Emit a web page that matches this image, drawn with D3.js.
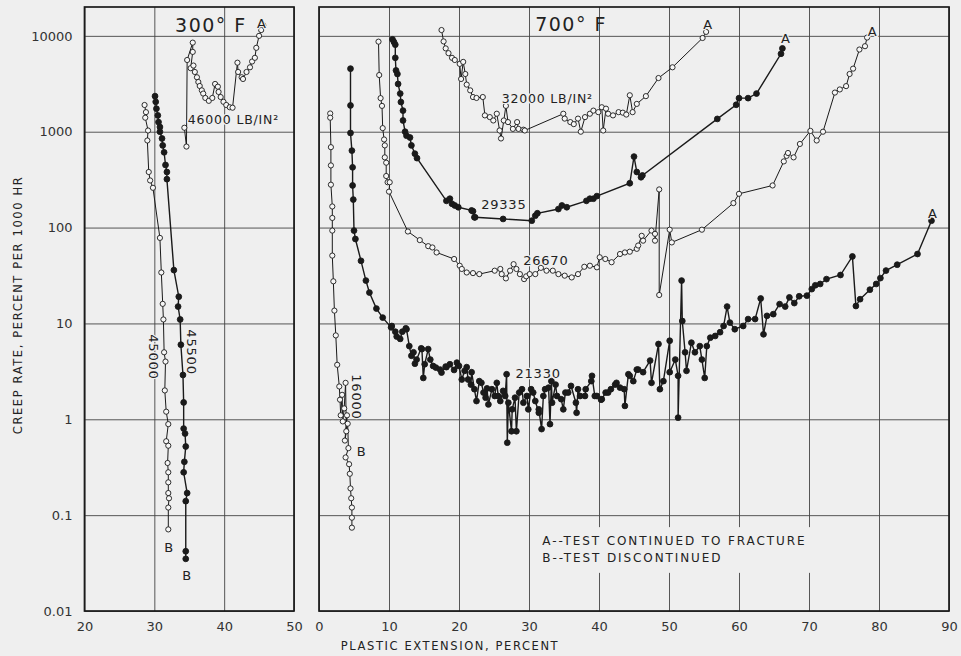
<!DOCTYPE html>
<html>
<head>
<meta charset="utf-8">
<script src="https://cdn.jsdelivr.net/npm/d3@7"></script>
<style>
  body { margin: 0; background: #efefef; }
  svg { display: block; font-family: "DejaVu Sans", sans-serif; }
</style>
</head>
<body>
<svg width="961" height="656"></svg>
<script>
// creep rate (percent per 1000 hr) vs plastic extension (percent)

// 300 F
const s46000 = [[34.3,1100],[34.6,700],[34.7,5600],[35.5,8500],[35.5,6800],[35.2,4600],[35.6,4900],[35.8,4200],[36.1,3700],[36.3,3300],[36.5,3000],[36.8,2700],[37.0,2500],[37.3,2250],[37.8,2100],[38.3,2250],[38.7,3150],[39.1,2950],[39.2,2600],[39.5,2300],[39.9,2050],[40.3,1900],[40.8,1800],[41.2,1780],[41.9,5250],[42.0,4200],[42.5,3700],[42.7,3550],[43.2,4200],[43.7,4700],[44.0,5400],[44.4,5900],[44.6,7500],[45.0,10000],[45.3,11500],[45.6,12900]];
const s45000 = [[28.6,1900],[28.8,1600],[28.7,1400],[29.1,1030],[29.0,810],[29.2,380],[29.4,310],[29.8,260],[30.8,78],[31.0,34],[31.2,16],[31.3,11],[31.4,5.0],[31.6,4.0],[31.5,2.0],[31.7,1.2],[32.0,0.89],[31.7,0.59],[32.0,0.53],[31.9,0.35],[32.0,0.28],[32.0,0.22],[32.0,0.17],[32.1,0.15],[32.0,0.12],[32.0,0.071]];
const s45500 = [[30.1,2350],[30.2,2050],[30.3,1740],[30.5,1480],[30.6,1260],[30.8,1120],[30.8,1000],[31.1,850],[31.2,720],[31.4,610],[31.6,450],[31.8,380],[31.8,320],[32.8,36],[33.5,19],[33.4,15],[33.7,11],[33.8,6],[34.1,2.9],[34.2,1.5],[34.2,0.8],[34.4,0.71],[34.5,0.52],[34.3,0.36],[34.2,0.28],[34.7,0.17],[34.5,0.14],[34.5,0.042],[34.5,0.035]];

// 700 F
const s32000 = [[17.5,11500],[17.8,8750],[18.1,7400],[18.5,6600],[19.0,5900],[19.4,5600],[20.1,5100],[20.3,3550],[20.6,5350],[20.9,4000],[21.1,3100],[21.6,2700],[22.0,2300],[22.5,2250],[23.4,2300],[23.7,1480],[24.4,1420],[24.9,1310],[25.4,1540],[25.8,1030],[26.0,850],[26.4,1310],[26.7,1860],[27.0,1260],[27.7,1070],[28.3,1260],[28.5,1070],[29.2,1050],[29.4,1030],[34.9,1540],[35.1,1370],[35.9,1260],[36.4,1200],[37.0,1370],[37.4,1000],[38.0,1420],[38.7,1540],[39.2,1660],[39.9,1600],[40.4,1800],[40.6,1030],[41.0,1740],[41.3,1540],[42.0,1480],[42.8,1600],[43.4,1580],[43.9,1510],[44.4,2400],[44.8,1600],[45.4,1950],[46.7,2350],[48.5,3630],[50.5,4700],[54.8,9500],[55.3,11000]];
const s29335 = [[10.5,9200],[10.7,8650],[10.9,8100],[10.9,5900],[11.0,4360],[11.2,4000],[11.3,3150],[11.6,2500],[11.7,2040],[12.0,1660],[12.0,1310],[12.3,1000],[12.5,910],[13.0,870],[13.2,720],[13.7,590],[14.0,530],[18.2,190],[18.7,200],[19.0,177],[19.4,170],[19.9,163],[21.8,151],[22.0,148],[22.2,128],[22.3,128],[26.3,123],[30.4,118],[30.9,133],[31.2,141],[34.2,156],[34.7,170],[35.4,163],[38.2,190],[38.7,200],[39.2,200],[39.7,213],[44.4,290],[45.0,550],[45.4,380],[46.0,335],[46.2,350],[56.9,1360],[59.6,1910],[60.0,2240],[61.3,2240],[62.5,2500],[66.0,6500],[66.2,7400]];
const s26670 = [[8.5,8700],[8.6,3900],[8.8,2240],[9.0,1860],[9.1,1090],[9.3,830],[9.4,720],[9.4,540],[9.6,475],[9.6,345],[9.8,297],[10.1,297],[10.0,237],[12.7,91],[14.4,74],[15.6,64],[16.2,62],[16.8,55],[19.3,47],[20.1,40],[20.4,37],[21.1,34],[22.0,33.5],[22.9,32.7],[25.1,35.5],[25.9,37],[26.1,32.7],[26.7,29.5],[27.3,35.5],[27.8,41.5],[28.2,37],[28.7,32.7],[29.3,29],[29.6,31],[30.1,32.7],[30.9,32.7],[31.7,38],[32.5,35.5],[33.4,35.5],[34.2,32.7],[35.1,31.5],[36.1,30.2],[37.0,32.7],[37.9,39],[38.7,40],[39.7,38.5],[40.1,49],[40.9,47],[41.8,43.5],[43.0,53],[43.7,55],[44.4,56],[45.4,60],[45.6,65],[46.1,82],[46.3,73],[47.5,93],[48.0,86],[48.0,73],[48.6,250],[48.6,19.8],[50.1,95],[50.4,70],[54.7,95],[59.2,180],[60.0,225],[64.8,275],[66.4,490],[66.8,560],[67.0,600],[67.8,540],[68.7,745],[70.2,1020],[71.1,810],[72.0,1000],[73.7,2560],[74.4,2760],[75.3,2990],[75.8,4000],[76.3,4550],[77.2,7200],[78.0,7800],[78.3,9600]];
const s21330 = [[4.5,4550],[4.5,1880],[4.5,970],[4.7,635],[4.8,425],[4.8,275],[4.9,196],[5.0,93],[5.2,76],[6.0,45],[6.7,28],[7.2,21],[8.2,14.3],[9.1,11.5],[10.3,9.1],[10.4,9.4],[10.9,8.2],[11.1,7.3],[11.6,6.9],[11.9,8.2],[12.4,8.9],[12.5,8.7],[12.9,5.8],[13.2,4.6],[13.5,5.0],[13.7,3.8],[13.95,4.2],[14.6,5.5],[14.7,5.4],[14.9,2.7],[15.1,3.75],[15.6,5.4],[15.9,4.2],[16.3,3.6],[16.7,3.46],[17.3,3.3],[17.5,3.07],[18.1,3.55],[18.2,3.5],[18.7,3.75],[19.3,3.27],[19.7,3.9],[20.0,3.6],[20.4,2.6],[20.8,3.2],[21.1,3.5],[21.3,2.6],[21.7,2.3],[21.8,3.1],[22.2,2.06],[22.5,1.55],[22.9,2.5],[23.2,2.4],[23.5,1.9],[23.8,1.68],[24.0,2.1],[24.2,1.43],[24.7,2.06],[25.1,1.75],[25.4,2.4],[25.6,1.75],[25.9,1.55],[26.3,1.98],[26.6,1.75],[26.8,2.95],[26.9,0.57],[27.05,1.49],[27.5,0.75],[27.6,1.27],[28.0,1.68],[28.2,0.75],[28.6,1.9],[29.0,2.06],[29.2,1.49],[29.7,1.75],[29.9,1.27],[30.3,2.06],[30.6,1.9],[30.9,1.55],[31.4,1.17],[31.4,1.27],[31.8,0.79],[32.05,1.75],[32.3,2.06],[32.8,2.14],[33.0,0.89],[33.2,2.5],[33.3,1.49],[33.8,2.3],[34.0,1.75],[34.6,1.62],[34.9,1.27],[35.2,1.9],[35.6,1.9],[36.0,2.23],[36.7,1.49],[36.8,1.17],[37.0,2.06],[37.3,1.75],[38.0,1.75],[38.1,2.06],[38.9,2.5],[39.0,2.84],[39.4,1.75],[39.7,1.75],[40.3,1.6],[40.4,1.62],[40.95,1.9],[41.3,1.9],[41.7,2.06],[42.3,2.3],[42.5,2.4],[43.0,2.14],[43.6,2.06],[43.7,1.38],[44.2,2.95],[44.4,2.84],[44.9,2.5],[45.4,3.3],[45.6,3.3],[46.3,3.1],[47.3,4.1],[47.5,2.4],[48.5,6.1],[48.7,2.06],[49.2,2.5],[50.1,6.6],[50.1,3.1],[50.9,4.2],[51.3,2.84],[51.3,1.04],[51.8,28],[51.9,10.6],[52.3,5.0],[52.5,3.2],[53.2,6.3],[53.7,5.0],[54.4,5.8],[54.7,4.2],[55.1,2.7],[55.4,5.8],[55.9,7.1],[56.6,7.4],[57.3,8.1],[57.8,9.4],[58.3,15],[58.7,10.2],[59.4,8.7],[60.6,9.4],[61.3,11.1],[62.3,11.1],[63.1,18.2],[63.5,7.7],[64.0,12],[64.9,12.5],[65.8,15.9],[66.6,15],[67.2,18.7],[67.9,16.3],[68.6,19.2],[69.7,19.5],[70.4,22.8],[70.9,25],[71.6,25.8],[72.5,29],[74.5,32],[76.2,50],[76.7,15.2],[77.3,17.9],[78.7,22.5],[79.6,25.8],[80.2,29.7],[81.0,35.6],[82.6,41],[85.5,53],[87.5,118]];
const s16000 = [[1.6,1550],[1.6,1400],[1.7,690],[1.7,445],[1.7,280],[1.9,166],[1.9,126],[1.9,93],[1.9,51],[2.05,27.5],[2.2,13.6],[2.4,7.5],[2.6,3.7],[2.9,2.2],[3.0,1.6],[3.1,1.1],[3.3,1.8],[3.4,0.95],[3.6,1.3],[3.8,2.4],[3.9,0.75],[4.0,1.1],[3.7,0.6],[4.1,0.9],[4.2,0.5],[3.8,0.4],[4.3,0.34],[4.4,0.27],[4.5,0.19],[4.6,0.15],[4.7,0.12],[4.7,0.094],[4.7,0.074]];

const y_ticks = [0.01, 0.1, 1, 10, 100, 1000, 10000];
const y_tick_labels = ["0.01", "0.1", "1", "10", "100", "1000", "10000"];
const left_x_ticks = [20, 30, 40, 50];
const right_x_ticks = [0, 10, 20, 30, 40, 50, 60, 70, 80, 90];

const svg = d3.select("svg");
const ink = "#1a1a1a";
const paper = "#efefef";

const y_scale = d3.scaleLog().domain([0.01, 20000]).range([611, 7]);
const x_left = d3.scaleLinear().domain([20, 50]).range([84.5, 294]);
const x_right = d3.scaleLinear().domain([0, 90]).range([319, 949]);

function drawPanel(x_scale, x_ticks, showYLabels) {
  const [x0, x1] = x_scale.range();
  const [yb, yt] = y_scale.range();

  const yAxis = d3.axisLeft(y_scale)
    .tickValues(y_ticks)
    .tickSize(-(x1 - x0))
    .tickPadding(12)
    .tickFormat((d, i) => showYLabels ? y_tick_labels[i] : "");
  const gy = svg.append("g").attr("transform", `translate(${x0},0)`).call(yAxis);
  gy.select(".domain").remove();
  gy.selectAll(".tick line").attr("stroke", "#444").attr("stroke-width", 0.9);
  gy.selectAll(".tick text").attr("fill", "#333").style("font-size", "13px")
    .style("font-family", "DejaVu Sans, sans-serif");

  const xAxis = d3.axisBottom(x_scale)
    .tickValues(x_ticks)
    .tickSize(-(yb - yt))
    .tickPadding(11);
  const gx = svg.append("g").attr("transform", `translate(0,${yb})`).call(xAxis);
  gx.select(".domain").remove();
  gx.selectAll(".tick line").attr("stroke", "#444").attr("stroke-width", 0.9);
  gx.selectAll(".tick text").attr("fill", "#333").style("font-size", "13px")
    .style("font-family", "DejaVu Sans, sans-serif");

  svg.append("rect")
    .attr("x", x0).attr("y", yt)
    .attr("width", x1 - x0).attr("height", yb - yt)
    .attr("fill", "none").attr("stroke", ink).attr("stroke-width", 1.7);
}

drawPanel(x_left, left_x_ticks, true);
drawPanel(x_right, right_x_ticks, false);

// legend box hides the grid behind it
svg.append("rect")
  .attr("x", x_right(30.5)).attr("y", y_scale(0.075))
  .attr("width", x_right(70.5) - x_right(30.5))
  .attr("height", y_scale(0.025) - y_scale(0.075))
  .attr("fill", paper);

const series = [
  { data: s46000, x: x_left, filled: false },
  { data: s45000, x: x_left, filled: false },
  { data: s45500, x: x_left, filled: true },
  { data: s32000, x: x_right, filled: false },
  { data: s29335, x: x_right, filled: true },
  { data: s26670, x: x_right, filled: false },
  { data: s21330, x: x_right, filled: true },
  { data: s16000, x: x_right, filled: false },
];

series.forEach((s) => {
  const line = d3.line().x((d) => s.x(d[0])).y((d) => y_scale(d[1]));
  svg.append("path")
    .attr("d", line(s.data))
    .attr("fill", "none")
    .attr("stroke", ink)
    .attr("stroke-width", s.filled ? 1.4 : 1);
  svg.append("g")
    .selectAll("circle")
    .data(s.data)
    .join("circle")
    .attr("cx", (d) => s.x(d[0]))
    .attr("cy", (d) => y_scale(d[1]))
    .attr("r", s.filled ? 2.9 : 2.6)
    .attr("fill", s.filled ? ink : "#f7f7f7")
    .attr("stroke", ink)
    .attr("stroke-width", 0.9);
});

// annotations: [text, scale, x, y, size, anchor, rotate]
const notes = [
  ["300° F", x_left, 38.1, 11100, 19, "middle", 0],
  ["A", x_left, 45.4, 12100, 13, "middle", 0],
  ["46000 LB/IN²", x_left, 34.8, 1200, 12.5, "start", 0],
  ["45000", x_left, 29.95, 4.47, 13, "middle", 90],
  ["45500", x_left, 35.35, 5.03, 13, "middle", 90],
  ["B", x_left, 32.1, 0.041, 13, "middle", 0],
  ["B", x_left, 34.7, 0.021, 13, "middle", 0],
  ["700° F", x_right, 36, 11200, 19, "middle", 0],
  ["32000 LB/IN²", x_right, 26.1, 2000, 12.5, "start", 0],
  ["29335", x_right, 26.4, 156, 13, "middle", 0],
  ["26670", x_right, 32.4, 40.6, 13, "middle", 0],
  ["21330", x_right, 31.3, 2.7, 13, "middle", 0],
  ["16000", x_right, 5.43, 1.71, 13, "middle", 90],
  ["B", x_right, 6.1, 0.414, 13, "middle", 0],
  ["A", x_right, 55.6, 11700, 13, "middle", 0],
  ["A", x_right, 66.7, 8400, 13, "middle", 0],
  ["A", x_right, 79.1, 10000, 13, "middle", 0],
  ["A", x_right, 87.7, 126, 13, "middle", 0],
  ["A--TEST CONTINUED TO FRACTURE", x_right, 31.9, 0.0489, 12, "start", 0],
  ["B--TEST DISCONTINUED", x_right, 31.9, 0.0324, 12, "start", 0],
];

notes.forEach(([t, xs, xv, yv, size, anchor, rot]) => {
  const px = xs(xv), py = y_scale(yv);
  svg.append("text")
    .attr("transform", rot ? `translate(${px},${py}) rotate(${rot})` : `translate(${px},${py})`)
    .attr("dy", rot ? "0.35em" : 0)
    .attr("text-anchor", anchor)
    .attr("fill", "#222")
    .attr("paint-order", "stroke")
    .attr("stroke", paper)
    .attr("stroke-width", size > 15 ? 0 : 2.5)
    .style("font-size", size + "px")
    .style("letter-spacing", size > 15 ? "1.5px" : (size === 12 ? "1.9px" : "0.8px"))
    .text(t);
});

// axis titles
svg.append("text")
  .attr("x", 450).attr("y", 650)
  .attr("text-anchor", "middle")
  .attr("fill", "#222")
  .style("font-size", "11.5px")
  .style("letter-spacing", "1.6px")
  .text("PLASTIC EXTENSION, PERCENT");

svg.append("text")
  .attr("transform", "translate(22,305) rotate(-90)")
  .attr("text-anchor", "middle")
  .attr("fill", "#222")
  .style("font-size", "11.5px")
  .style("letter-spacing", "1.6px")
  .text("CREEP RATE, PERCENT PER 1000 HR");
</script>
</body>
</html>
